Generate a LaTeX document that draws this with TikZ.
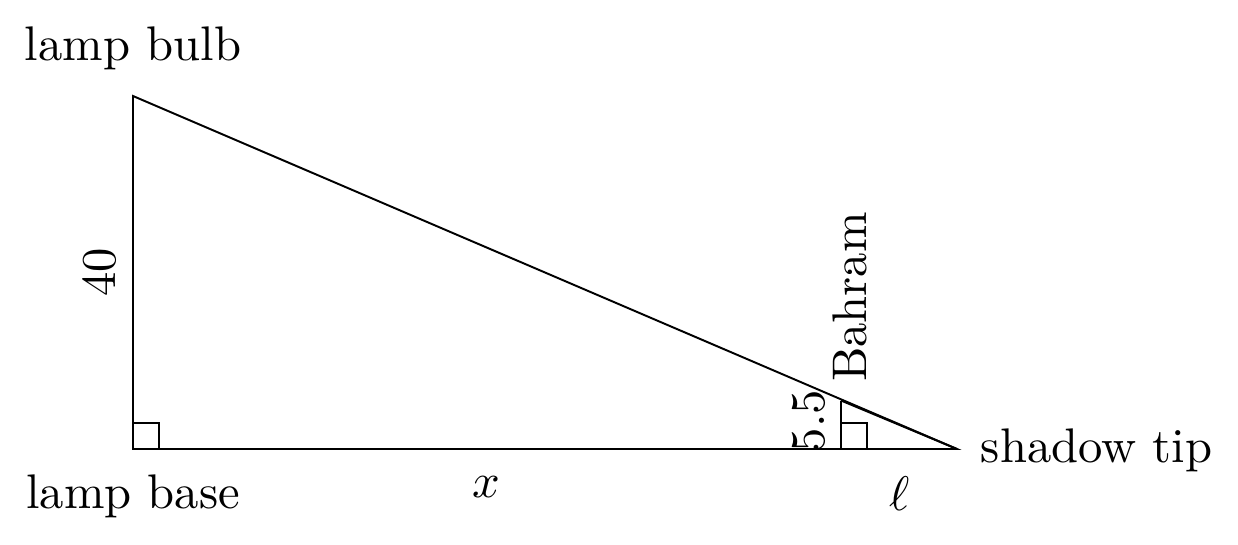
\documentclass[tikz,border=0pt]{standalone}
\begin{document}
\begin{tikzpicture}[x=0.20576pt,y=-0.20576pt,
  lbl/.style={inner sep=0pt,anchor=base},
  vlbl/.style={inner sep=0pt,anchor=base,rotate=90},
  edge/.style={line width=0.4pt}]
\useasboundingbox (0,0) rectangle (1238,544);
\coordinate (base) at (133,449);
\coordinate (bulb) at (133,96);
\coordinate (tip) at (957,449);
\coordinate (bh) at (841,449);
\coordinate (bt) at (841,400.5);
\draw[edge] (base) -- (bulb) -- (tip) -- cycle;
\draw[edge] (bh) -- (bt);
\draw[edge] (bt) -- (tip);
\draw[edge] (base) rectangle ++(26,-26);
\draw[edge] (bh) rectangle ++(26,-26);
\node[lbl] (lbulb) at (133,60) {lamp bulb};
\node[lbl] (lbase) at (133,508) {lamp base};
\node[lbl,anchor=base west] (ltip) at (980,462) {shadow tip};
\node[lbl] (lx) at (486,497) {$x$};
\node[lbl] (lell) at (900,510) {$\ell$};
\node[vlbl] (l40) at (115,272) {40};
\node[vlbl] (l55) at (825,421) {5.5};
\node[vlbl] (lb) at (867,297) {Bahram};
\end{tikzpicture}
\end{document}
